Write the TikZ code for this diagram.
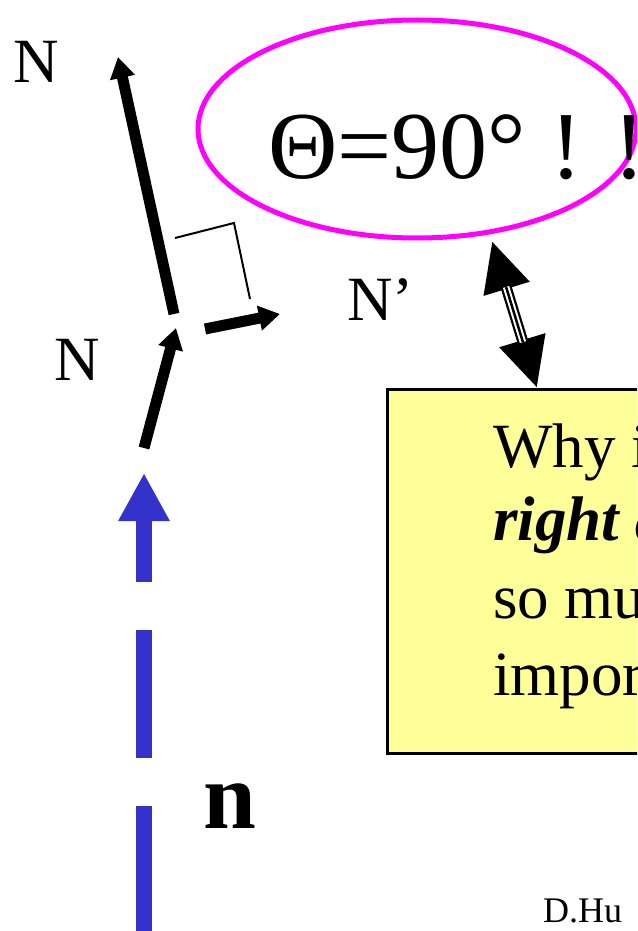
\documentclass[tikz,border=0pt]{standalone}
\usepackage{fontspec}
\setmainfont{Liberation Serif}
\usetikzlibrary{arrows.meta,shapes.geometric}
\definecolor{normmagenta}{RGB}{255,0,255}
\definecolor{normblue}{RGB}{51,51,204}
\definecolor{noteyellow}{RGB}{255,255,153}

\tikzset{
  vecarrow/.style={line width=11pt,-{Triangle[length=21pt,width=24pt]}},
  veclabel/.style={anchor=base west,inner sep=0pt,font=\fontsize{63}{76}\selectfont},
  notetext/.style={anchor=base west,inner sep=0pt,font=\fontsize{63}{76}\selectfont},
}

\begin{document}
\begin{tikzpicture}[x=1pt,y=-1pt]
  \useasboundingbox (0,0) rectangle (637,931);
  \clip (0,0) rectangle (637,931);

  % normal vectors
  \coordinate (ntail) at (174,314);
  \coordinate (nhead) at (118,57);
  \coordinate (mtail) at (144,448);
  \coordinate (mhead) at (176,328);
  \coordinate (ptail) at (205,329);
  \coordinate (phead) at (280,314);
  \draw[vecarrow] (ntail) -- (nhead);
  \draw[vecarrow] (mtail) -- (mhead);
  \draw[vecarrow] (ptail) -- (phead);
  \draw[line width=2pt] (175,238) -- (234,223) -- (250,299);

  \node[veclabel] (labN) at (13,83) {N};
  \node[veclabel] (labM) at (54,380) {N};
  \node[veclabel] (labP) at (347,320) {N’};

  % dashed incoming normal
  \coordinate (nbot) at (144,934);
  \coordinate (ntip) at (144,473);
  \draw[normblue,line width=16pt,dash pattern=on 128pt off 48pt,
    -{Triangle[length=48pt,width=48pt]}] (nbot) -- (ntip);
  \node[anchor=base west,inner sep=0pt,font=\fontsize{95}{95}\selectfont\bfseries] (labn) at (203,828) {n};

  % angle
  \node[ellipse,draw=normmagenta,line width=5pt,minimum width=438pt,minimum height=218pt,inner sep=0pt] (theta) at (417,129) {};
  \node[anchor=base west,inner sep=0pt,font=\fontsize{96}{96}\selectfont] (thetatext) at (268,178) {Θ=90° ! !};

  % note box
  \node[draw,fill=noteyellow,line width=2.5pt,anchor=north west,minimum width=320pt,minimum height=364pt,inner sep=0pt] (box) at (386,388) {};
  \foreach \i/\y/\txt in {1/467/{Why is},2/540/{\textbf{\textit{right angle}}},3/618/{so much},4/695/{important?}}{
    \node[notetext] (why\i) at (493,\y) {\txt};
  }

  % double arrow
  \coordinate (dtop) at (492,241);
  \coordinate (dbot) at (537,388);
  \draw[line width=11pt,{Triangle[length=50pt,width=45pt]}-{Triangle[length=50pt,width=45pt]}] (dtop) -- (dbot);
  \draw[white,line width=6.5pt,shorten <=48pt,shorten >=48pt] (dtop) -- (dbot);
  \draw[line width=2.5pt,shorten <=48pt,shorten >=48pt] (dtop) -- (dbot);

  \node[anchor=base west,inner sep=0pt,font=\fontsize{36}{36}\selectfont] (credit) at (543,922) {D.Hu};
\end{tikzpicture}
\end{document}
